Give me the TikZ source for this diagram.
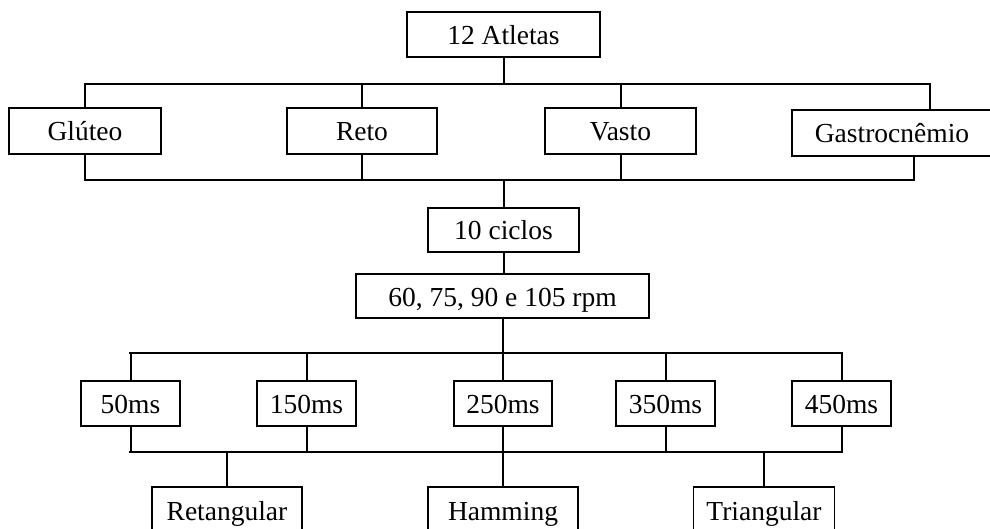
\documentclass[tikz,border=0pt]{standalone}
\usepackage{fontspec}
\setmainfont{Liberation Serif}
\tikzset{
  box/.style={draw, line width=1.3pt, rectangle, inner sep=0pt,
    font=\fontsize{27.5}{30}\selectfont, text height=20pt, text depth=0pt},
  wire/.style={draw, line width=2pt, line cap=rect}
}
\begin{document}
\begin{tikzpicture}[x=1pt, y=-1pt]
\useasboundingbox (0,0) rectangle (990,529);
\fill[white] (0,0) rectangle (990,529);
\clip (0,0) rectangle (990,529);

% top level
\node[box, minimum width=193pt, minimum height=45pt] (atl) at (503.5,34.5) {12 Atletas};

% muscles
\node[box, minimum width=152pt, minimum height=46pt] (glu) at (85,131) {Glúteo};
\node[box, minimum width=150pt, minimum height=46pt] (reto) at (362,131) {Reto};
\node[box, minimum width=151pt, minimum height=46pt] (vasto) at (620.5,131) {Vasto};
\node[box, minimum width=200pt, minimum height=46pt] (gas) at (892,133) {Gastrocnêmio};

% cycles and speeds
\node[box, minimum width=151pt, minimum height=44pt] (cic) at (503.5,230) {10 ciclos};
\node[box, minimum width=293pt, minimum height=44pt] (rpm) at (502.5,296) {60, 75, 90 e 105 rpm};

% window lengths
\node[box, minimum width=99pt, minimum height=45pt] (m50) at (130.5,403.5) {50ms};
\node[box, minimum width=99pt, minimum height=45pt] (m150) at (306.5,403.5) {150ms};
\node[box, minimum width=98pt, minimum height=45pt] (m250) at (503,403.5) {250ms};
\node[box, minimum width=99pt, minimum height=45pt] (m350) at (665.5,403.5) {350ms};
\node[box, minimum width=99pt, minimum height=45pt] (m450) at (841.5,403.5) {450ms};

% window shapes
\node[box, minimum width=150pt, minimum height=46pt] (ret) at (227,510) {Retangular};
\node[box, minimum width=150pt, minimum height=46pt] (ham) at (503,510) {Hamming};
\node[box, minimum width=141pt, minimum height=46pt] (tri) at (764,510) {Triangular};

% bus bars
\coordinate (topL) at (86,84);
\coordinate (topR) at (930,84);
\coordinate (midL) at (86,180);
\coordinate (midR) at (914,180);
\coordinate (msL) at (130,353);
\coordinate (msR) at (840,353);
\coordinate (lowL) at (130,452);
\coordinate (lowR) at (840,452);

% athletes to muscles
\draw[wire] (atl.south) -- (atl.south |- topL);
\draw[wire] (topL) -- (topR);
\draw[wire] (glu.north) -- (glu.north |- topL);
\draw[wire] (reto.north) -- (reto.north |- topL);
\draw[wire] (vasto.north) -- (vasto.north |- topL);
\draw[wire] (topR) -- (topR |- gas.north);

% muscles to cycles
\draw[wire] (midL) -- (midR);
\draw[wire] (glu.south) -- (glu.south |- midL);
\draw[wire] (reto.south) -- (reto.south |- midL);
\draw[wire] (vasto.south) -- (vasto.south |- midL);
\draw[wire] (midR) -- (midR |- gas.south);
\draw[wire] (cic.north |- midL) -- (cic.north);
\draw[wire] (cic.south) -- (cic.south |- rpm.north);

% speeds to window lengths
\draw[wire] (rpm.south) -- (rpm.south |- msL);
\draw[wire] (msL) -- (msR);
\foreach \n in {m50,m150,m250,m350,m450}
  \draw[wire] (\n.north |- msL) -- (\n.north);

% window lengths to window shapes
\draw[wire] (lowL) -- (lowR);
\foreach \n in {m50,m150,m250,m350,m450}
  \draw[wire] (\n.south) -- (\n.south |- lowL);
\foreach \n in {ret,ham,tri}
  \draw[wire] (\n.north |- lowL) -- (\n.north);
\end{tikzpicture}
\end{document}
